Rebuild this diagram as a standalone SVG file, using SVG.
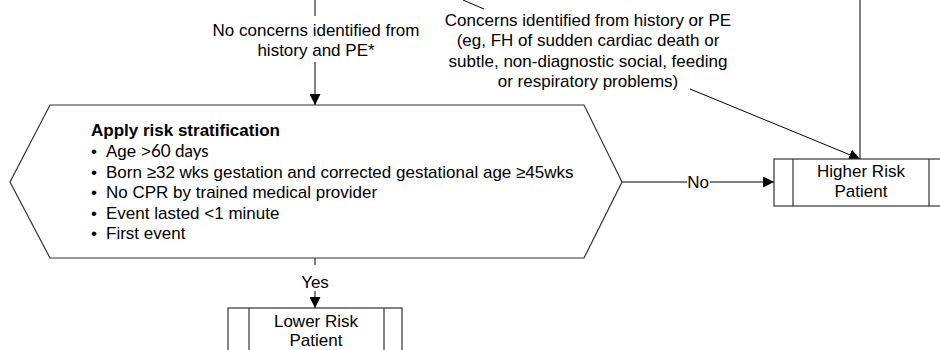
<svg xmlns="http://www.w3.org/2000/svg" width="940" height="350" viewBox="0 0 940 350">
<style>
text{font-family:"Liberation Sans",Arial,sans-serif;font-size:17px;fill:#000}
.c{text-anchor:middle}
.b{font-weight:bold}
.ln{stroke:#000;stroke-width:1;fill:none}
.shape{stroke:#333;stroke-width:1.2;fill:#fff}
.div{stroke:#333;stroke-width:1.2}
</style>
<defs>
<marker id="ah" viewBox="0 0 10 10" refX="10" refY="5" markerWidth="11" markerHeight="11" markerUnits="userSpaceOnUse" orient="auto">
<path d="M0,0 L10,5 L0,10 Z" fill="#000"/>
</marker>
</defs>
<g id="connectors">
<line class="ln" x1="315" y1="0" x2="315" y2="16"/>
<line class="ln" x1="315" y1="62" x2="315" y2="105" marker-end="url(#ah)"/>
<line class="ln" x1="315" y1="258" x2="315" y2="265"/>
<line class="ln" x1="315" y1="291" x2="315" y2="308" marker-end="url(#ah)"/>
<line class="ln" x1="622" y1="182" x2="687" y2="182"/>
<line class="ln" x1="710" y1="182" x2="774" y2="182" marker-end="url(#ah)"/>
<line class="ln" x1="463" y1="0" x2="484" y2="9"/>
<line class="ln" x1="690" y1="89" x2="860" y2="159" marker-end="url(#ah)"/>
<line class="ln" x1="860" y1="0" x2="860" y2="159"/>
<text class="c" x="316" y="36">No concerns identified from</text>
<text class="c" x="316" y="56">history and PE*</text>
<text class="c" x="588" y="26">Concerns identified from history or PE</text>
<text class="c" x="588" y="46">(eg, FH of sudden cardiac death or</text>
<text class="c" x="588" y="67">subtle, non-diagnostic social, feeding</text>
<text class="c" x="588" y="87">or respiratory problems)</text>
<text class="c" x="698" y="188">No</text>
<text class="c" x="315" y="288">Yes</text>
</g>
<g id="risk-stratification">
<polygon class="shape" points="50,105 584,105 622,182 584,258 50,258 10,182"/>
<text class="b" x="91" y="136">Apply risk stratification</text>
<text x="91" y="157">•<tspan x="106">Age &gt;</tspan><tspan font-family="Lato,'Open Sans',sans-serif">60 days</tspan></text>
<text x="91" y="178">•<tspan x="106">Born ≥32 wks gestation and corrected gestational age ≥45wks</tspan></text>
<text x="91" y="198">•<tspan x="106">No CPR by trained medical provider</tspan></text>
<text x="91" y="219">•<tspan x="106">Event lasted &lt;1 minute</tspan></text>
<text x="91" y="239">•<tspan x="106">First event</tspan></text>
</g>
<g id="higher-risk">
<rect class="shape" x="774" y="159" width="176" height="47"/>
<line class="div" x1="793" y1="159" x2="793" y2="206"/>
<line class="div" x1="929" y1="159" x2="929" y2="206"/>
<text class="c" x="861" y="177">Higher Risk</text>
<text class="c" x="861" y="197">Patient</text>
</g>
<g id="lower-risk">
<rect class="shape" x="228" y="308" width="174" height="50"/>
<line class="div" x1="249" y1="308" x2="249" y2="358"/>
<line class="div" x1="384" y1="308" x2="384" y2="358"/>
<text class="c" x="316" y="327">Lower Risk</text>
<text class="c" x="316" y="346">Patient</text>
</g>
</svg>
